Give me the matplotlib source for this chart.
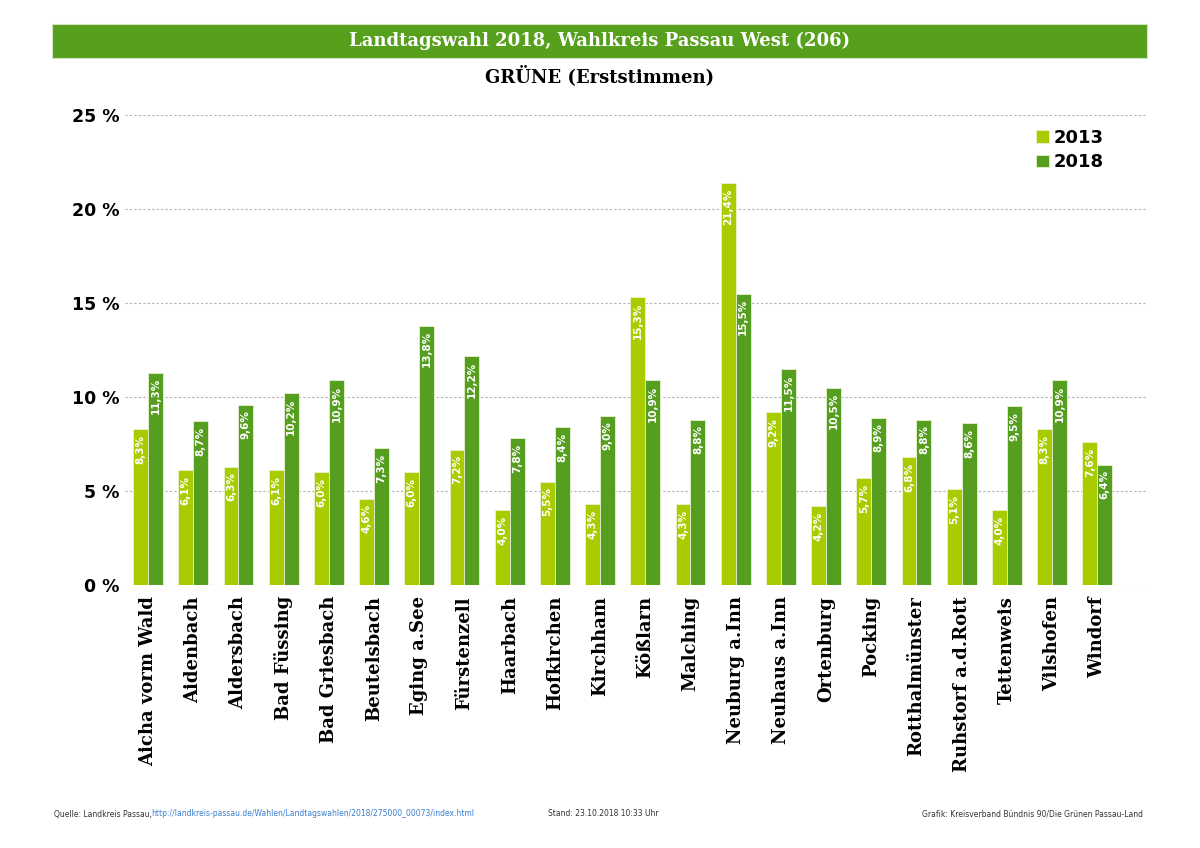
import matplotlib
matplotlib.use("Agg")
import matplotlib.pyplot as plt
from matplotlib.patches import Rectangle
import numpy as np

categories = ["Aicha vorm Wald", "Aidenbach", "Aldersbach", "Bad Füssing", "Bad Griesbach",
              "Beutelsbach", "Eging a.See", "Fürstenzell", "Haarbach", "Hofkirchen", "Kirchham",
              "Kößlarn", "Malching", "Neuburg a.Inn", "Neuhaus a.Inn", "Ortenburg", "Pocking",
              "Rotthalmünster", "Ruhstorf a.d.Rott", "Tettenweis", "Vilshofen", "Windorf"]
values_2013 = [8.3, 6.1, 6.3, 6.1, 6.0, 4.6, 6.0, 7.2, 4.0, 5.5, 4.3, 15.3, 4.3, 21.4, 9.2,
               4.2, 5.7, 6.8, 5.1, 4.0, 8.3, 7.6]
values_2018 = [11.3, 8.7, 9.6, 10.2, 10.9, 7.3, 13.8, 12.2, 7.8, 8.4, 9.0, 10.9, 8.8, 15.5,
               11.5, 10.5, 8.9, 8.8, 8.6, 9.5, 10.9, 6.4]
series_labels = ["2013", "2018"]
yticks = [0, 5, 10, 15, 20, 25]
ytick_labels = ["0 %", "5 %", "10 %", "15 %", "20 %", "25 %"]

c13 = "#A9CC00"
c18 = "#559E1F"
header_green = "#57A01E"

fig = plt.figure(figsize=(12, 8.48), dpi=100)
W, H = 1200, 848

ax = fig.add_axes([125 / W, 1 - 585 / H, (1147 - 125) / W, (585 - 115) / H])
x = np.arange(len(categories))
bw = 0.33
b1 = ax.bar(x - bw / 2, values_2013, bw, color=c13, edgecolor="#e8f2d0", linewidth=0.6, label=series_labels[0], zorder=3)
b2 = ax.bar(x + bw / 2, values_2018, bw, color=c18, edgecolor="#e8f2d0", linewidth=0.6, label=series_labels[1], zorder=3)

for bars, vals in ((b1, values_2013), (b2, values_2018)):
    for rect, v in zip(bars, vals):
        ax.text(rect.get_x() + rect.get_width() / 2, v - 0.3, f"{v:.1f}%".replace(".", ","),
                rotation=90, ha="center", va="top", color="white", fontsize=7.5,
                fontweight="bold", zorder=4)

ax.set_xlim(-0.51, 22.1)
ax.set_ylim(0, 25)
ax.set_yticks(yticks)
ax.set_yticklabels(ytick_labels, fontsize=12.5, fontweight="bold", family="DejaVu Sans")
ax.yaxis.grid(True, linestyle=(0, (2, 2)), color="#b0b0b0", linewidth=0.8, zorder=0)
ax.set_axisbelow(True)
ax.set_xticks(x)
ax.set_xticklabels(categories, rotation=90, fontsize=13, fontweight="bold", family="DejaVu Serif",
                   va="top", ha="center")
ax.tick_params(axis="x", length=0, pad=8)
ax.tick_params(axis="y", length=0, pad=4)
for s in ax.spines.values():
    s.set_visible(False)

leg = ax.legend(loc="upper right", bbox_to_anchor=(0.974, 1.005), frameon=False, handlelength=0.7,
                handleheight=0.7, handletextpad=0.3, labelspacing=0.35,
                prop={"weight": "bold", "size": 13})

# header bar
fig.patches.append(Rectangle((52 / W, 1 - 58 / H), (1147 - 52) / W, 34 / H, transform=fig.transFigure,
                             facecolor=header_green, edgecolor="#cfe3c0", linewidth=0.8))
fig.text(600 / W, 1 - 41 / H, "Landtagswahl 2018, Wahlkreis Passau West (206)", ha="center", va="center",
         color="white", fontsize=13, fontweight="bold", family="DejaVu Serif")
fig.text(600 / W, 1 - 76 / H, "GRÜNE (Erststimmen)", ha="center", va="center",
         color="black", fontsize=13, fontweight="bold", family="DejaVu Serif")

# footer
fy = 1 - 814 / H
fig.text(54 / W, fy, "Quelle: Landkreis Passau,", ha="left", va="center", fontsize=5.5, color="#333333")
fig.text(151 / W, fy, "http://landkreis-passau.de/Wahlen/Landtagswahlen/2018/275000_00073/index.html",
         ha="left", va="center", fontsize=5.5, color="#3a7fd0")
fig.text(548 / W, fy, "Stand: 23.10.2018 10:33 Uhr", ha="left", va="center", fontsize=5.5, color="#333333")
fig.text(1143 / W, fy, "Grafik: Kreisverband Bündnis 90/Die Grünen Passau-Land", ha="right", va="center",
         fontsize=5.5, color="#333333")

fig.savefig("out.png", dpi=100)
